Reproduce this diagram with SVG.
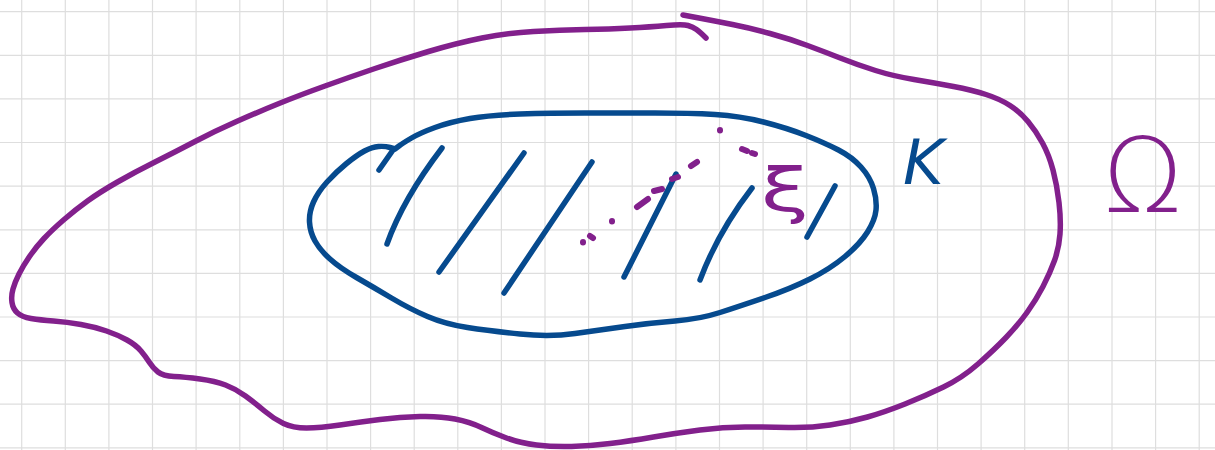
<svg xmlns="http://www.w3.org/2000/svg" width="1215" height="450" viewBox="0 0 1215 450">
<style>
.grid{fill:none;stroke:#dedede;stroke-width:1.2}
.pu{fill:none;stroke:#82208c;stroke-width:5.5;stroke-linecap:round;stroke-linejoin:round}
.bl{fill:none;stroke:#064a8e;stroke-width:5.5;stroke-linecap:round;stroke-linejoin:round}
.dot{fill:none;stroke:#82208c;stroke-width:6;stroke-linecap:round}
.lbl{font-family:"DejaVu Sans","Liberation Sans",sans-serif}
</style>
<rect width="1215" height="450" fill="#ffffff"/>
<path id="grid" class="grid" d="M21.7,0V450M65.3,0V450M108.9,0V450M152.5,0V450M196.1,0V450M239.8,0V450M283.4,0V450M327,0V450M370.6,0V450M414.2,0V450M457.8,0V450M501.4,0V450M545,0V450M588.6,0V450M632.2,0V450M675.9,0V450M719.5,0V450M763.1,0V450M806.7,0V450M850.3,0V450M893.9,0V450M937.5,0V450M981.1,0V450M1024.7,0V450M1068.3,0V450M1112,0V450M1155.6,0V450M1199.2,0V450M0,11.7H1215M0,55.3H1215M0,98.9H1215M0,142.5H1215M0,186.1H1215M0,229.8H1215M0,273.4H1215M0,317H1215M0,360.6H1215M0,404.2H1215M0,447.8H1215"/>
<g id="omega-region">
<path class="pu" d="M683,15 L699,18 Q715,21 732.5,24.5 Q750,28 770,33.5 Q790,39 807.5,45.5 Q825,52 841.5,58.5 Q858,65 875.5,70.5 Q893,76 914,79.5 Q935,83 953.5,86.5 Q972,90 986,94.5 Q1000,99 1010,105.5 Q1020,112 1028,121.5 Q1036,131 1042.5,143 Q1049,155 1053,170 Q1057,185 1059,202.5 Q1061,220 1060,234 Q1059,248 1054.5,260.5 Q1050,273 1043,286.5 Q1036,300 1027,312.5 Q1018,325 1006,337.5 Q994,350 978,364 Q962,378 943.5,387 Q925,396 905,404 Q885,412 867.5,417 Q850,422 830,425 Q810,428 788.5,427.5 Q767,427 745,427 Q723,427 700,430 Q677,433 653.5,437 Q630,441 610,443.5 Q590,446 571.5,446.5 Q553,447 536.5,445 Q520,443 506.5,438 Q493,433 481.5,427.5 Q470,422 455,419 Q440,416 420,416.5 Q400,417 380,419.5 Q360,422 340,425 Q320,428 306.5,428 Q293,428 283.5,423.5 Q274,419 264.5,411 Q255,403 245.5,396 Q236,389 225.5,385 Q215,381 200,379 Q185,377 174,376.5 Q163,376 158,372 Q153,368 149.5,362.5 Q146,357 141,351 Q136,345 127,340 Q118,335 106.5,331 Q95,327 81,324.5 Q67,322 53.5,321 Q40,320 31,318.5 Q22,317 17.5,313 Q13,309 12,302.5 Q11,296 13,289 Q15,282 19,274 Q23,266 29.5,256.5 Q36,247 44,238.5 Q52,230 63.5,220 Q75,210 87.5,201 Q100,192 117.5,182 Q135,172 155,162 Q175,152 195,141.5 Q215,131 236.5,121.5 Q258,112 279,103.5 Q300,95 325,86 Q350,77 375,68.5 Q400,60 428.5,51.5 Q457,43 482,38 Q507,33 533.5,31.5 Q560,30 585,29.5 Q610,29 630,28 Q650,27 666.5,25.5 Q683,24 688,25.5 Q693,27 696.5,29.5 Q700,32 706,38"/>
</g>
<g id="k-region">
<path class="bl" d="M379,170 L393,150"/>
<path class="bl" d="M395,149 L390,147.5 Q385,146 378.5,146.5 Q372,147 364.5,151 Q357,155 346.5,163.5 Q336,172 327,182 Q318,192 313.5,202 Q309,212 309.5,222 Q310,232 315,241 Q320,250 330,259 Q340,268 356.5,277.5 Q373,287 391.5,298 Q410,309 427.5,316.5 Q445,324 467.5,327.5 Q490,331 520,334 Q550,337 575,333.5 Q600,330 625,326.5 Q650,323 675,321 Q700,319 720,312.5 Q740,306 765,297.5 Q790,289 810,279 Q830,269 845,256.5 Q860,244 867.5,232 Q875,220 876,210 Q877,200 873.5,188.5 Q870,177 861,167 Q852,157 838.5,150 Q825,143 806,135.5 Q787,128 763.5,122 Q740,116 715,114.5 Q690,113 655,113 Q620,113 585,113 Q550,113 520,114 Q490,115 470,118.5 Q450,122 435,127.5 Q420,133 411.5,138 Q403,143 399,146 L395,149"/>
</g>
<g id="hatching">
<path class="bl" d="M442,148 Q403,199 387,244"/>
<path class="bl" d="M524,153 L439,272"/>
<path class="bl" d="M592,162 L504,293"/>
<path class="bl" d="M676,174 L624,277"/>
<path class="bl" d="M752,188 Q718,232 700,280"/>
<path class="bl" d="M835,186 L807,237"/>
</g>
<g id="dotted-path">
<path class="dot" d="M720,130 l0,0.5 M742,149 L747,151 M752,153 L755,154 M691,166 L697,162 M672,179 L678,177 M654,191 L662,189 M637,207 L648,199 M612,221 l0,0.5 M590,236 L593,238 M583,242 l0,0.5"/>
</g>
<g id="labels">
<text class="lbl" x="785" y="211" font-size="60" fill="#82208c" text-anchor="middle" transform="translate(785,0) scale(1.45,1) translate(-785,0)">ξ</text>
<text class="lbl" x="903" y="184" font-size="62" fill="#064a8e" font-style="italic">K</text>
<text class="lbl" x="1103" y="212" font-size="104" font-weight="200" fill="#82208c">Ω</text>
</g>
</svg>
